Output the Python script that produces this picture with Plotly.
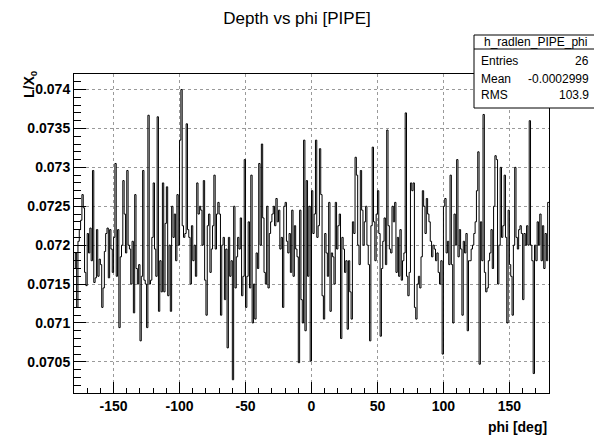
import numpy as np
import plotly.graph_objects as go

# Histogram h_radlen_PIPE_phi : 360 bins of 1 deg from -180 to 180
phi_min, phi_max, n_bins = -180.0, 180.0, 360

depth_m180_m90 = [
    0.07170, 0.07190, 0.07120, 0.07205, 0.07220, 0.07232, 0.07265, 0.07248, 0.07165, 0.07148,
    0.07215, 0.07190, 0.07222, 0.07180, 0.07296, 0.07152, 0.07158, 0.07220, 0.07160, 0.07182,
    0.07175, 0.07120, 0.07145, 0.07192, 0.07215, 0.07222, 0.07158, 0.07220, 0.07195, 0.07165,
    0.07210, 0.07305, 0.07160, 0.07220, 0.07094, 0.07185, 0.07200, 0.07283, 0.07240, 0.07190,
    0.07296, 0.07200, 0.07195, 0.07150, 0.07205, 0.07113, 0.07265, 0.07170, 0.07150, 0.07175,
    0.07077, 0.07160, 0.07296, 0.07155, 0.07150, 0.07094, 0.07367, 0.07150, 0.07155, 0.07210,
    0.07280, 0.07195, 0.07160, 0.07365, 0.07115, 0.07180, 0.07140, 0.07280, 0.07140, 0.07228,
    0.07275, 0.07135, 0.07200, 0.07115, 0.07250, 0.07210, 0.07240, 0.07180, 0.07265, 0.07200,
    0.07335, 0.07400, 0.07225, 0.07210, 0.07215, 0.07356, 0.07220, 0.07210, 0.07150, 0.07225,
]
depth_m90_0 = [
    0.07180, 0.07200, 0.07160, 0.07280, 0.07240, 0.07250, 0.07245, 0.07200, 0.07283, 0.07155,
    0.07110, 0.07225, 0.07240, 0.07165, 0.07195, 0.07225, 0.07290, 0.07195, 0.07240, 0.07255,
    0.07240, 0.07110, 0.07200, 0.07210, 0.07130, 0.07195, 0.07068, 0.07210, 0.07160, 0.07180,
    0.07027, 0.07250, 0.07145, 0.07185, 0.07210, 0.07195, 0.07235, 0.07135, 0.07160, 0.07310,
    0.07120, 0.07160, 0.07230, 0.07145, 0.07290, 0.07100, 0.07150, 0.07105, 0.07190, 0.07170,
    0.07305, 0.07200, 0.07330, 0.07235, 0.07165, 0.07150, 0.07250, 0.07145, 0.07215, 0.07230,
    0.07240, 0.07250, 0.07225, 0.07260, 0.07230, 0.07245, 0.07195, 0.07210, 0.07120, 0.07250,
    0.07255, 0.07205, 0.07190, 0.07215, 0.07165, 0.07245, 0.07160, 0.07225, 0.07195, 0.07185,
    0.07049, 0.07245, 0.07130, 0.07100, 0.07335, 0.07090, 0.07283, 0.07160, 0.07250, 0.07051,
]
depth_0_90 = [
    0.07270, 0.07215, 0.07240, 0.07335, 0.07210, 0.07225, 0.07324, 0.07265, 0.07135, 0.07105,
    0.07215, 0.07190, 0.07160, 0.07255, 0.07115, 0.07190, 0.07185, 0.07150, 0.07255, 0.07195,
    0.07225, 0.07240, 0.07080, 0.07210, 0.07195, 0.07165, 0.07180, 0.07092, 0.07180, 0.07140,
    0.07105, 0.07230, 0.07215, 0.07313, 0.07290, 0.07200, 0.07175, 0.07296, 0.07245, 0.07200,
    0.07230, 0.07250, 0.07200, 0.07175, 0.07077, 0.07225, 0.07326, 0.07230, 0.07180, 0.07240,
    0.07270, 0.07215, 0.07083, 0.07170, 0.07205, 0.07235, 0.07175, 0.07348, 0.07225, 0.07195,
    0.07190, 0.07250, 0.07230, 0.07255, 0.07165, 0.07210, 0.07160, 0.07220, 0.07155, 0.07180,
    0.07190, 0.07370, 0.07160, 0.07135, 0.07165, 0.07280, 0.07270, 0.07280, 0.07120, 0.07105,
    0.07150, 0.07160, 0.07145, 0.07185, 0.07270, 0.07250, 0.07215, 0.07260, 0.07240, 0.07230,
]
depth_90_180 = [
    0.07205, 0.07185, 0.07200, 0.07195, 0.07180, 0.07190, 0.07165, 0.07150, 0.07180, 0.07060,
    0.07250, 0.07260, 0.07190, 0.07205, 0.07175, 0.07290, 0.07175, 0.07100, 0.07240, 0.07200,
    0.07310, 0.07185, 0.07220, 0.07195, 0.07110, 0.07205, 0.07190, 0.07215, 0.07090, 0.07180,
    0.07180, 0.07195, 0.07200, 0.07215, 0.07230, 0.07270, 0.07320, 0.07047, 0.07230, 0.07180,
    0.07368, 0.07165, 0.07140, 0.07145, 0.07180, 0.07190, 0.07220, 0.07170, 0.07250, 0.07315,
    0.07310, 0.07150, 0.07200, 0.07300, 0.07210, 0.07225, 0.07290, 0.07210, 0.07100, 0.07245,
    0.07175, 0.07160, 0.07110, 0.07200, 0.07300, 0.07210, 0.07195, 0.07220, 0.07225, 0.07215,
    0.07130, 0.07215, 0.07200, 0.07225, 0.07200, 0.07360, 0.07200, 0.07180, 0.07035, 0.07200,
    0.07180, 0.07230, 0.07200, 0.07240, 0.07180, 0.07225, 0.07170, 0.07215, 0.07180, 0.07255,
]

y_tickvals = [0.0705, 0.071, 0.0715, 0.072, 0.0725, 0.073, 0.0735, 0.074]
y_ticktext = ["0.0705", "0.071", "0.0715", "0.072", "0.0725", "0.073", "0.0735", "0.074"]
x_tickvals = [-150, -100, -50, 0, 50, 100, 150]
x_ticktext = ["-150", "-100", "-50", "0", "50", "100", "150"]

stat_name = "h_radlen_PIPE_phi"
stat_labels = ["Entries", "Mean", "RMS"]
stat_values = ["26", "-0.0002999", "103.9"]

values = depth_m180_m90 + depth_m90_0 + depth_0_90 + depth_90_180
assert len(values) == n_bins
edges = np.linspace(phi_min, phi_max, n_bins + 1)
ys = values + [values[-1]]

FONT = "Liberation Sans"

fig = go.Figure()
fig.add_trace(go.Scatter(
    x=edges, y=ys, mode="lines", line=dict(color="black", width=1, shape="hv"),
    showlegend=False, hoverinfo="skip"))

fig.update_layout(
    width=594, height=439,
    margin=dict(l=74, r=45, t=74, b=46),
    paper_bgcolor="white", plot_bgcolor="white",
    title=dict(text="Depth vs phi [PIPE]", x=0.5, xref="container", xanchor="center",
               y=1 - 18 / 439, yref="container", yanchor="middle",
               font=dict(family=FONT, size=17, color="black")),
)
fig.update_xaxes(
    range=[phi_min, phi_max], tickvals=x_tickvals, ticktext=x_ticktext,
    ticks="inside", ticklen=11, tickwidth=1, tickcolor="black",
    minor=dict(dtick=10, tick0=0, ticks="inside", ticklen=5, tickcolor="black", showgrid=False),
    showline=True, linecolor="black", linewidth=1, mirror=True,
    showgrid=True, gridcolor="#9a9a9a", griddash="dot", gridwidth=1,
    zeroline=False,
    tickfont=dict(family=FONT, size=14, color="black", weight="bold"),
)
fig.update_yaxes(
    range=[0.0701, 0.0742], tickvals=y_tickvals, ticktext=y_ticktext,
    ticks="inside", ticklen=12, tickwidth=1, tickcolor="black",
    minor=dict(dtick=0.0001, tick0=0.07, ticks="inside", ticklen=7, tickcolor="black", showgrid=False),
    showline=True, linecolor="black", linewidth=1, mirror=True,
    showgrid=True, gridcolor="#9a9a9a", griddash="dot", gridwidth=1,
    zeroline=False,
    tickfont=dict(family=FONT, size=14, color="black", weight="bold"),
)

# axis titles (ROOT style placement)
fig.add_annotation(text="phi [deg]", xref="paper", yref="paper", x=1.0, y=(393 - 427) / 319,
                   xanchor="right", yanchor="middle", showarrow=False,
                   font=dict(family=FONT, size=14, color="black", weight="bold"))
fig.add_annotation(text="L/X<sub>0</sub>", xref="paper", yref="paper",
                   x=(30 - 74) / 475, y=(393 - 84) / 319, textangle=-90,
                   xanchor="center", yanchor="middle", showarrow=False,
                   font=dict(family=FONT, size=14, color="black", weight="bold"))

# stat box
px = lambda X: (X - 74) / 475
py = lambda Y: (393 - Y) / 319
fig.add_shape(type="rect", xref="paper", yref="paper", x0=px(474), x1=px(600),
              y0=py(108), y1=py(35), line=dict(color="black", width=1),
              fillcolor="white", layer="above")
fig.add_shape(type="line", xref="paper", yref="paper", x0=px(474), x1=px(600),
              y0=py(49), y1=py(49), line=dict(color="black", width=1), layer="above")
fig.add_annotation(text=stat_name, xref="paper", yref="paper", x=px(535), y=py(42),
                   xanchor="center", yanchor="middle", showarrow=False,
                   font=dict(family=FONT, size=12, color="black"))
for lab, val, yy in zip(stat_labels, stat_values, [61, 79, 95]):
    fig.add_annotation(text=lab, xref="paper", yref="paper", x=px(479), y=py(yy),
                       xanchor="left", yanchor="middle", showarrow=False,
                       font=dict(family=FONT, size=12, color="black"))
    fig.add_annotation(text=val, xref="paper", yref="paper", x=px(591), y=py(yy),
                       xanchor="right", yanchor="middle", showarrow=False,
                       font=dict(family=FONT, size=12, color="black"))

fig.write_html("out.html")
